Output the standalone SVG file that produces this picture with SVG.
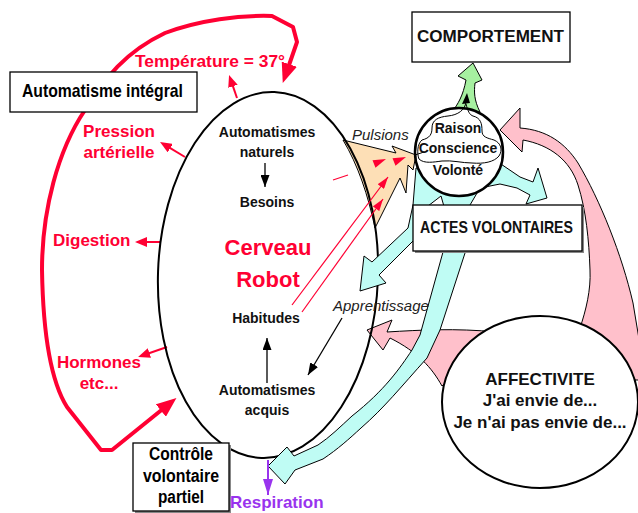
<svg xmlns="http://www.w3.org/2000/svg" width="638" height="513" viewBox="0 0 638 513">
<style>
  text { font-family: "Liberation Sans", Arial, sans-serif; }
  .b { font-weight: bold; }
  .blk14 { font-weight: bold; font-size: 14px; fill: #111; text-anchor: middle; }
  .red { fill: #FF0033; font-weight: bold; }
  .it { font-style: italic; font-size: 15px; fill: #222; }
  .box { fill: #fff; stroke: #000; stroke-width: 1.3; }
  .shadow { fill: #888; }
  .rthin { stroke: #FF0033; stroke-width: 2; fill: none; marker-end: url(#rsmall); }
  .rfine { stroke: #FF0033; stroke-width: 1.2; fill: none; marker-end: url(#rfine); }
  .kthin { stroke: #000; stroke-width: 1.3; fill: none; marker-end: url(#kar); }
</style>
<defs>
  <marker id="rbig" markerUnits="userSpaceOnUse" markerWidth="20" markerHeight="16" viewBox="0 0 20 16" refX="4" refY="8" orient="auto-start-reverse">
    <path d="M0,0 L20,8 L0,16 Z" fill="#FF0033"/>
  </marker>
  <marker id="rsmall" markerUnits="userSpaceOnUse" markerWidth="12" markerHeight="10" viewBox="0 0 12 10" refX="2" refY="5" orient="auto">
    <path d="M0,0 L12,5 L0,10 Z" fill="#FF0033"/>
  </marker>
  <marker id="rfine" markerUnits="userSpaceOnUse" markerWidth="12" markerHeight="8" viewBox="0 0 12 8" refX="12" refY="4" orient="auto">
    <path d="M0,0 L12,4 L0,8 Z" fill="#FF0033"/>
  </marker>
  <marker id="kar" markerUnits="userSpaceOnUse" markerWidth="12" markerHeight="9" viewBox="0 0 12 9" refX="12" refY="4.5" orient="auto">
    <path d="M0,0 L12,4.5 L0,9 Z" fill="#000"/>
  </marker>
  <marker id="par" markerUnits="userSpaceOnUse" markerWidth="16" markerHeight="10" viewBox="0 0 16 10" refX="16" refY="5" orient="auto">
    <path d="M0,0 L16,5 L0,10 Z" fill="#9933EE"/>
  </marker>
</defs>

<g id="connectors">
  <!-- pink arrows from affectivite -->
  <path id="pink-to-raison" d="M500,130 L520,108 L520,128 C547,130 565,143 578,163 C600,200 622,255 633,303 L640,345 L640,380 L600,380 L580,328 C586,310 591,290 590,270 C589,240 586,210 578,185 C570,160 550,145 523,140 L522,152 Z" fill="#FFC0CB" stroke="#000" stroke-width="1"/>
  <path id="pink-to-apprentissage" d="M367,330 L392,320 L387,332 C420,330 455,328 497,332 L470,360 L442,386 C432,368 418,352 390,338 L383,350 Z" fill="#FFC0CB" stroke="#000" stroke-width="1"/>

  <!-- red loop -->
  <path d="M164,408 L112,450 L101,450 L67,407 C50,380 43,330 42,270 C42,210 58,150 85,110 C105,78 125,52 165,33 C200,20 240,15 272,16 L293,27 L297,42 L288,68" fill="none" stroke="#FF0033" stroke-width="4" stroke-linejoin="round" marker-start="url(#rbig)" marker-end="url(#rbig)"/>

  <!-- red thin arrows out of cerveau -->
  <line class="rthin" x1="237" y1="98" x2="232.3" y2="84.4"/>
  <line class="rthin" x1="185" y1="157" x2="168.6" y2="147.1"/>
  <line class="rthin" x1="160" y1="242" x2="145" y2="242"/>
  <line class="rthin" x1="167" y1="347" x2="147.5" y2="353.7"/>

  <!-- pulsions shape -->
  <path id="pulsions-shape" d="M343,140 L396,153 L392,146 L416,155 L413,170 L408,165 L406,193 L400,178 L375,228 C368,195 358,165 343,140 Z" fill="#FDDFB6" stroke="#000" stroke-width="1"/>

  <!-- black arrows inside cerveau -->
  <line class="kthin" x1="265" y1="163" x2="265" y2="187"/>
  <line class="kthin" x1="267" y1="383" x2="267" y2="338"/>
  <line class="kthin" x1="342" y1="318" x2="308" y2="375"/>
</g>

<g id="cerveau">
  <ellipse cx="268" cy="275" rx="110" ry="183" fill="none" stroke="#000" stroke-width="2" transform="rotate(2 268 275)"/>
  <text class="blk14" x="267" y="137">Automatismes</text>
  <text class="blk14" x="267" y="157">naturels</text>
  <text class="blk14" x="267" y="207">Besoins</text>
  <text class="red" x="268" y="255" font-size="22" text-anchor="middle">Cerveau</text>
  <text class="red" x="268" y="287" font-size="22" text-anchor="middle">Robot</text>
  <text class="blk14" x="266" y="323">Habitudes</text>
  <text class="blk14" x="267" y="395">Automatismes</text>
  <text class="blk14" x="267" y="415">acquis</text>
</g>

<g id="connectors-2">
  <!-- red fine arrows into pulsions -->
  <line class="rfine" x1="292" y1="305" x2="388" y2="177"/>
  <line class="rfine" x1="302" y1="312" x2="383" y2="199"/>
  <line x1="333" y1="180" x2="348" y2="175" stroke="#FF0033" stroke-width="1.2"/>
  <polygon points="386,159 372.5,160.3 375.5,167.7" fill="#FF0033"/>
  <polygon points="406,157 392.5,158.3 395.5,165.7" fill="#FF0033"/>

  <!-- cyan arrows -->
  <path id="cyan" d="M416,168 L413,205 L408,228 L372,262 L364,256 L360,291 L386,283 L379,275 L414,240 L428,206 L441,196 L445,210 L443,252 L420,335 L412,350 C400,368 385,390 352,416 C340,427 330,437 318,445 L294,456 L287,447 L268,466 L285,484 L295,470 L323,459 C338,449 349,439 361,428 C384,408 400,388 427,358 L440,330 L466,250 L470,205 L480,188 L500,184 L517,188 L530,195 L526,204 L547,198 L538,168 L533,182 L520,177 L495,160 Z" fill="#BFFCF4" stroke="#000" stroke-width="1"/>

  <!-- green arrow -->
  <path id="green" d="M452,112 C458,104 463,96 466,80 L458,76 L473,63 L482,80 L475,83 C474,92 474,100 480,112 Z" fill="#A6F0A0" stroke="#000" stroke-width="1"/>

  <!-- purple arrow -->
  <line x1="268" y1="460" x2="268" y2="495" stroke="#9933EE" stroke-width="2" marker-end="url(#par)"/>
</g>

<g id="raison">
  <circle cx="459" cy="152" r="44" fill="#fff" stroke="#000" stroke-width="2.5"/>
  <path d="M466,102 C465,110 458,115 448,116 C438,117 432,120 432,128 C432,134 430,138 422,140 C417,144 417,154 419,159 C424,164 434,162 442,161 C452,160 462,163 472,163 C484,164 494,162 499,156 C503,150 501,143 494,140 C487,138 482,137 482,131 C482,124 481,118 473,116 C470,115 468,112 466,104" fill="none" stroke="#000" stroke-width="1"/>
  <path d="M415,155 L424,152" fill="none" stroke="#000" stroke-width="1"/>
  <polygon points="467,93 462,104 470,103" fill="#000"/>
  <text class="blk14" x="458" y="133">Raison</text>
  <text class="blk14" x="458" y="153">Conscience</text>
  <text class="blk14" x="458" y="175">Volonté</text>
</g>

<g id="comportement">
  <rect class="box" x="412" y="12" width="158" height="50"/>
  <text class="b" x="417" y="42" font-size="16" textLength="147" lengthAdjust="spacingAndGlyphs" fill="#111">COMPORTEMENT</text>
</g>

<g id="actes-volontaires">
  <rect class="shadow" x="415" y="207" width="169" height="46"/>
  <rect class="box" x="413" y="205" width="169" height="46"/>
  <text class="b" x="420" y="233" font-size="17" textLength="153" lengthAdjust="spacingAndGlyphs" fill="#111">ACTES VOLONTAIRES</text>
</g>

<g id="affectivite">
  <ellipse cx="540" cy="402" rx="98" ry="86" fill="#fff" stroke="#000" stroke-width="2"/>
  <text class="b" x="540" y="385" font-size="17" text-anchor="middle" fill="#111">AFFECTIVITE</text>
  <text class="b" x="540" y="406" font-size="17" text-anchor="middle" fill="#111">J'ai envie de...</text>
  <text class="b" x="540" y="428" font-size="17" text-anchor="middle" fill="#111">Je n'ai pas envie de...</text>
</g>

<g id="automatisme-integral">
  <rect class="box" x="10" y="72" width="187" height="40"/>
  <text class="b" x="22" y="97" font-size="19" textLength="161" lengthAdjust="spacingAndGlyphs" fill="#000">Automatisme intégral</text>
</g>

<g id="controle">
  <rect class="shadow" x="135" y="445" width="96" height="68"/>
  <rect class="box" x="133" y="443" width="96" height="68"/>
  <text class="b" x="181" y="460" font-size="18" text-anchor="middle" textLength="64" lengthAdjust="spacingAndGlyphs">Contrôle</text>
  <text class="b" x="181" y="482" font-size="18" text-anchor="middle" textLength="76" lengthAdjust="spacingAndGlyphs">volontaire</text>
  <text class="b" x="181" y="503" font-size="18" text-anchor="middle" textLength="46" lengthAdjust="spacingAndGlyphs">partiel</text>
</g>

<g id="labels">
  <text class="red" x="135" y="67" font-size="17" textLength="150" lengthAdjust="spacingAndGlyphs">Température = 37°</text>
  <text class="red" x="119" y="137" font-size="17" text-anchor="middle">Pression</text>
  <text class="red" x="119" y="158" font-size="17" text-anchor="middle">artérielle</text>
  <text class="red" x="53" y="246" font-size="17">Digestion</text>
  <text class="red" x="99" y="368" font-size="17" text-anchor="middle">Hormones</text>
  <text class="red" x="99" y="389" font-size="17" text-anchor="middle">etc...</text>
  <text class="it" x="352" y="140">Pulsions</text>
  <text class="it" x="333" y="311">Apprentissage</text>
  <text x="230" y="508" font-size="17" font-weight="bold" fill="#9933EE">Respiration</text>
</g>
</svg>
